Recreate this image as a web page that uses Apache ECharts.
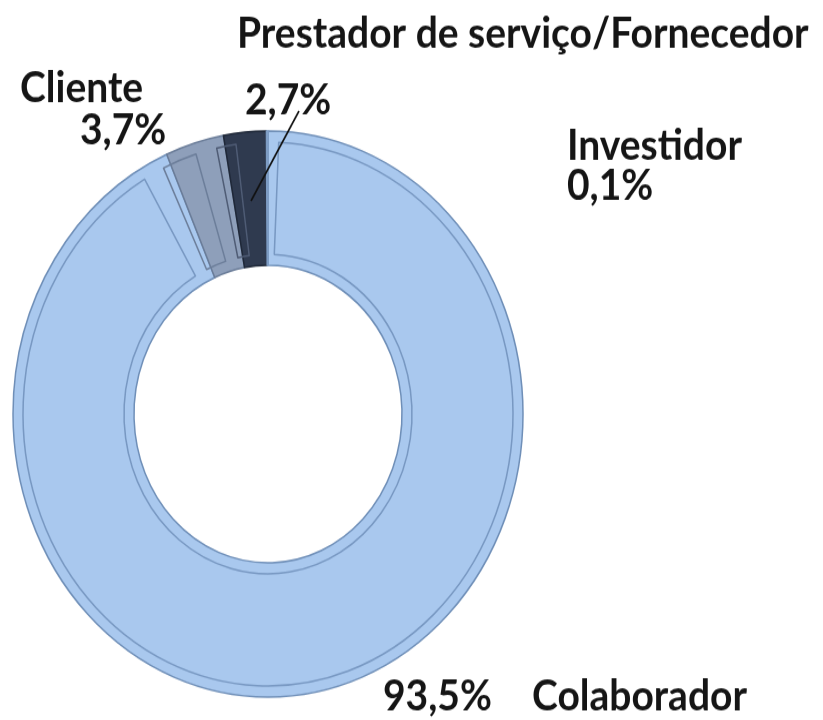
<!DOCTYPE html>
<html>
<head>
<meta charset="utf-8">
<script src="https://cdn.jsdelivr.net/npm/echarts@6/dist/echarts.min.js"></script>
<style>
html,body{margin:0;padding:0;background:#fff;}
#wrap{width:823px;height:720px;overflow:hidden;}
/* the source picture is stretched a bit vertically, so is the chart */
#main{width:823px;height:649px;transform:scaleY(1.11);transform-origin:0 0;}
</style>
</head>
<body>
<div id="wrap"><div id="main"></div></div>
<script>
var categories = ['Colaborador', 'Cliente', 'Prestador de serviço/Fornecedor', 'Investidor'];
var shares = [93.5, 3.7, 2.7, 0.1];

var sliceColors = ['#a9c8ee', '#8e9fba', '#2f3a4f', '#b3cff0'];
var edgeColors = ['#6f8fb8', '#6a7c98', '#1f2838', '#7d9cc4'];
var bevelColors = ['#7898c2', '#6c7e9a', '#4f5c75', 'rgba(0,0,0,0)'];

// onde fica cada rotulo (espaco do grafico antes do esticamento)
var labelSpots = [
    {x: 383, y: 627},
    {x: 20, y: 98},
    {x: 237, y: 60},
    {x: 567, y: 149}
];
// linha de chamada do 2,7%
var leaderLine = [[299, 100], [251, 181]];

function pct(v) {
    return v.toFixed(1).replace('.', ',') + '%';
}

var myChart = echarts.init(document.getElementById('main'), null, {renderer: 'canvas'});

var fillData = categories.map(function (name, i) {
    return {
        name: name,
        value: shares[i],
        itemStyle: {color: sliceColors[i], borderColor: edgeColors[i], borderWidth: 1.5}
    };
});
var bevelData = categories.map(function (name, i) {
    return {
        name: name,
        value: shares[i],
        itemStyle: {color: 'rgba(0,0,0,0)', borderColor: bevelColors[i], borderWidth: 1.5}
    };
});

var txt = {fontFamily: 'Lato', fontWeight: 'bold', fontSize: 39, color: '#151515'};
function rs(extra) {
    return Object.assign({}, txt, extra || {});
}

var option = {
    animation: false,
    backgroundColor: '#ffffff',
    graphic: [{
        type: 'polyline',
        silent: true,
        z: 10,
        shape: {points: leaderLine},
        style: {stroke: '#111111', lineWidth: 1.6, fill: null}
    }],
    series: [
        {
            name: 'fill',
            type: 'pie',
            center: [268, 373],
            radius: [134, 255],
            startAngle: 90,
            clockwise: true,
            avoidLabelOverlap: false,
            data: fillData,
            label: {
                show: true,
                position: 'outside',
                formatter: function (p) {
                    var i = p.dataIndex;
                    var v = pct(shares[i]);
                    if (i === 0) return '{v0|' + v + '}{n0|' + p.name + '}';
                    return '{n' + i + '|' + p.name + '}\n{v' + i + '|' + v + '}';
                },
                rich: {
                    v0: rs({width: 149}),
                    n0: rs(),
                    n1: rs({lineHeight: 38}),
                    v1: rs({lineHeight: 38, padding: [0, 0, 0, 60]}),
                    n2: rs({lineHeight: 60}),
                    v2: rs({lineHeight: 60, padding: [0, 0, 0, 8]}),
                    n3: rs({lineHeight: 36}),
                    v3: rs({lineHeight: 36})
                }
            },
            labelLine: {show: false},
            labelLayout: function (params) {
                var s = labelSpots[params.dataIndex];
                return {x: s.x, y: s.y, align: 'left', verticalAlign: 'middle'};
            },
            emphasis: {disabled: true}
        },
        {
            name: 'bevel',
            type: 'pie',
            silent: true,
            center: [268, 373],
            radius: [144, 245],
            startAngle: 90,
            clockwise: true,
            padAngle: 5,
            data: bevelData,
            label: {show: false},
            labelLine: {show: false},
            emphasis: {disabled: true}
        }
    ]
};

myChart.setOption(option);
</script>
</body>
</html>
